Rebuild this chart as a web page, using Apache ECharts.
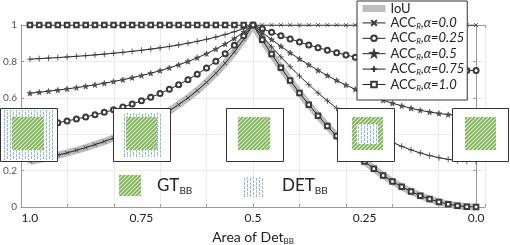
<!DOCTYPE html>
<html><head><meta charset="utf-8">
<script src="https://cdn.jsdelivr.net/npm/echarts@6/dist/echarts.min.js"></script>
<style>html,body{margin:0;padding:0;background:#fff}#c{width:510px;height:245px}</style>
</head><body><div id="c"></div>
<script>
// ---- data ----
const area = [1,0.9792,0.9583,0.9375,0.9167,0.8958,0.875,0.8542,0.8333,0.8125,0.7917,0.7708,0.75,0.7292,0.7083,0.6875,0.6667,0.6458,0.625,0.6042,0.5833,0.5625,0.5417,0.5208,0.5,
  0.4792,0.4583,0.4375,0.4167,0.3958,0.375,0.3542,0.3333,0.3125,0.2917,0.2708,0.25,0.2292,0.2083,0.1875,0.1667,0.1458,0.125,0.1042,0.0833,0.0625,0.0417,0.0208,0];
const iou = [0.25,0.2607,0.2722,0.2844,0.2975,0.3115,0.3265,0.3427,0.36,0.3787,0.3989,0.4208,0.4444,0.4702,0.4983,0.5289,0.5625,0.5994,0.64,0.6849,0.7347,0.7901,0.8521,0.9216,1,
  0.9184,0.8403,0.7656,0.6944,0.6267,0.5625,0.5017,0.4444,0.3906,0.3403,0.2934,0.25,0.2101,0.1736,0.1406,0.1111,0.0851,0.0625,0.0434,0.0278,0.0156,0.0069,0.0017,0];
const acc000 = [0.25,0.2607,0.2722,0.2844,0.2975,0.3115,0.3265,0.3427,0.36,0.3787,0.3989,0.4208,0.4444,0.4702,0.4983,0.5289,0.5625,0.5994,0.64,0.6849,0.7347,0.7901,0.8521,0.9216,1,
  1,1,1,1,1,1,1,1,1,1,1,1,1,1,1,1,1,1,1,1,1,1,1,1];
const acc025 = [0.4375,0.4455,0.4542,0.4633,0.4731,0.4836,0.4949,0.507,0.52,0.534,0.5492,0.5656,0.5833,0.6027,0.6237,0.6467,0.6719,0.6996,0.73,0.7637,0.801,0.8426,0.8891,0.9412,1,
  0.9796,0.9601,0.9414,0.9236,0.9067,0.8906,0.8754,0.8611,0.8477,0.8351,0.8234,0.8125,0.8025,0.7934,0.7852,0.7778,0.7713,0.7656,0.7609,0.757,0.7539,0.7517,0.7504,0.75];
const acc050 = [0.625,0.6304,0.6361,0.6422,0.6488,0.6558,0.6633,0.6713,0.68,0.6894,0.6994,0.7104,0.7222,0.7351,0.7491,0.7645,0.7813,0.7997,0.82,0.8425,0.8674,0.8951,0.926,0.9608,1,
  0.9592,0.9201,0.8828,0.8472,0.8134,0.7813,0.7509,0.7222,0.6953,0.6701,0.6467,0.625,0.605,0.5868,0.5703,0.5556,0.5425,0.5313,0.5217,0.5139,0.5078,0.5035,0.5009,0.5];
const acc075 = [0.8125,0.8152,0.8181,0.8211,0.8244,0.8279,0.8316,0.8357,0.84,0.8447,0.8497,0.8552,0.8611,0.8676,0.8746,0.8822,0.8906,0.8999,0.91,0.9212,0.9337,0.9475,0.963,0.9804,1,
  0.9388,0.8802,0.8242,0.7708,0.72,0.6719,0.6263,0.5833,0.543,0.5052,0.4701,0.4375,0.4076,0.3802,0.3555,0.3333,0.3138,0.2969,0.2826,0.2708,0.2617,0.2552,0.2513,0.25];
const acc100 = [1,1,1,1,1,1,1,1,1,1,1,1,1,1,1,1,1,1,1,1,1,1,1,1,1,
  0.9184,0.8403,0.7656,0.6944,0.6267,0.5625,0.5017,0.4444,0.3906,0.3403,0.2934,0.25,0.2101,0.1736,0.1406,0.1111,0.0851,0.0625,0.0434,0.0278,0.0156,0.0069,0.0017,0];
const xTickValues = [1, 0.75, 0.5, 0.25, 0];
const xTickLabels = ['1.0', '0.75', '0.5', '0.25', '0.0'];
const seriesNames = ['IoU', 'ACC_R,α=0.0', 'ACC_R,α=0.25', 'ACC_R,α=0.5', 'ACC_R,α=0.75', 'ACC_R,α=1.0'];

// ---- styles ----
const FONT = 'Lato';
const INK = '#222';
const MK = '#3a3a3a';
const AX = '#999';
const GRID = '#ebebeb';

function hatchCanvas() {
  const c = document.createElement('canvas'); c.width = 4; c.height = 4;
  const g = c.getContext('2d');
  g.fillStyle = '#eaf4e0'; g.fillRect(0, 0, 4, 4);
  g.strokeStyle = '#7ab552'; g.lineWidth = 1.8;
  g.beginPath();
  g.moveTo(-1, 5); g.lineTo(5, -1);
  g.moveTo(-1, 1); g.lineTo(1, -1);
  g.moveTo(3, 5); g.lineTo(5, 3);
  g.stroke();
  return c;
}
function dashCanvas() {
  const c = document.createElement('canvas'); c.width = 6; c.height = 8;
  const g = c.getContext('2d');
  g.fillStyle = '#fff'; g.fillRect(0, 0, 6, 8);
  g.fillStyle = '#8dbbe6';
  g.fillRect(1, 0, 1, 3); g.fillRect(1, 4, 1, 3);
  g.fillRect(4, 2, 1, 3); g.fillRect(4, 6, 1, 2); g.fillRect(4, 0, 1, 1);
  return c;
}
const green = { image: hatchCanvas(), repeat: 'repeat' };
const blue = { image: dashCanvas(), repeat: 'repeat' };

const insets = [
  { x: 0.5, w: 57, blue: [3, 110, 52, 50], green: [12, 117, 32, 33], blueTop: false },
  { x: 113.5, w: 57, blue: [122, 113, 41, 44], green: [126, 117, 31, 33], blueTop: false },
  { x: 226.5, w: 57, green: [238, 117, 32, 33] },
  { x: 337.5, w: 57, green: [352, 117, 31, 33], blue: [357, 124, 21, 20], blueTop: true },
  { x: 452.5, w: 56, green: [465, 117, 31, 33] }
];
const graphics = [];
insets.forEach(b => {
  graphics.push({ type: 'rect', z: 100, shape: { x: b.x, y: 108.5, width: b.w, height: 53 }, style: { fill: '#fff', stroke: '#333', lineWidth: 1 } });
  const gr = { type: 'rect', z: 101, shape: { x: b.green[0], y: b.green[1], width: b.green[2], height: b.green[3] }, style: { fill: green } };
  if (b.blue) {
    graphics.push({ type: 'rect', z: b.blueTop ? 102 : 100.5, shape: { x: b.blue[0], y: b.blue[1], width: b.blue[2], height: b.blue[3] }, style: { fill: blue } });
  }
  graphics.push(gr);
});
// bottom legend for GT / DET
graphics.push({ type: 'rect', z: 100, shape: { x: 119, y: 175, width: 22, height: 21 }, style: { fill: green } });
graphics.push({ type: 'rect', z: 100, shape: { x: 243, y: 177, width: 20, height: 20 }, style: { fill: blue } });
const subRich = {
  b: { fontSize: 17, fontFamily: FONT, lineHeight: 20, verticalAlign: 'middle', fill: INK },
  s: { fontSize: 10, fontFamily: FONT, lineHeight: 10, verticalAlign: 'bottom', fill: INK }
};
graphics.push({ type: 'text', z: 100, x: 157, y: 176, style: { text: '{b|GT}{s|BB}', rich: subRich, verticalAlign: 'top' } });
graphics.push({ type: 'text', z: 100, x: 282, y: 176, style: { text: '{b|DET}{s|BB}', rich: subRich, verticalAlign: 'top' } });

function pairs(ys) { return area.map((a, i) => [a, ys[i]]); }

const base = { type: 'line', xAxisIndex: 1, yAxisIndex: 0, animation: false, lineStyle: { color: INK, width: 1 }, z: 3 };
const series = [
  { name: seriesNames[0], type: 'line', xAxisIndex: 1, yAxisIndex: 0, animation: false, data: pairs(iou), symbol: 'none', lineStyle: { color: '#bdbdbd', width: 7 }, itemStyle: { color: '#bdbdbd' }, z: 2 },
  Object.assign({}, base, { name: seriesNames[1], data: pairs(acc000), symbol: 'path://M0,0L8,8M8,0L0,8', symbolSize: 4, itemStyle: { color: MK, borderColor: MK, borderWidth: 0.8 } }),
  Object.assign({}, base, { name: seriesNames[2], data: pairs(acc025), symbol: 'emptyCircle', symbolSize: 5, itemStyle: { color: MK, borderColor: MK, borderWidth: 0.8 } }),
  Object.assign({}, base, { name: seriesNames[3], data: pairs(acc050), symbol: 'path://M5,0L6.2,3.6L10,3.6L6.9,5.8L8.1,9.5L5,7.2L1.9,9.5L3.1,5.8L0,3.6L3.8,3.6Z', symbolSize: 5.5, itemStyle: { color: '#555', borderColor: MK, borderWidth: 0.6 } }),
  Object.assign({}, base, { name: seriesNames[4], data: pairs(acc075), symbol: 'path://M4,0L4,8M0,4L8,4', symbolSize: 6, itemStyle: { color: MK, borderColor: MK, borderWidth: 0.8 } }),
  Object.assign({}, base, { name: seriesNames[5], data: pairs(acc100), symbol: 'emptyRect', symbolSize: 4.5, itemStyle: { color: MK, borderColor: MK, borderWidth: 0.8 } })
];

const chart = echarts.init(document.getElementById('c'), null, { renderer: 'canvas' });
chart.setOption({
  animation: false,
  grid: { left: 21, right: 25, top: 25, bottom: 38, outerBoundsMode: 'none', containLabel: false },
  xAxis: [
    { type: 'value', min: 0, max: 1, interval: 0.1, position: 'bottom',
      axisLine: { show: true, lineStyle: { color: AX } }, axisTick: { show: true, inside: true, length: 3, lineStyle: { color: AX } },
      axisLabel: { show: false }, splitLine: { show: true, lineStyle: { color: GRID } } },
    { type: 'value', min: -0.02, max: 1.02, inverse: true, position: 'bottom',
      axisLine: { show: false }, axisTick: { show: false }, splitLine: { show: false },
      axisLabel: { show: true, customValues: xTickValues, margin: 5, fontSize: 12, fontFamily: FONT, color: INK,
        formatter: v => { const i = xTickValues.indexOf(v); return i >= 0 ? xTickLabels[i] : ''; } },
      name: '{a|Area of Det}{s|BB}', nameLocation: 'middle', nameGap: 22,
      nameTextStyle: { rich: {
        a: { fontSize: 14, fontFamily: FONT, color: INK, lineHeight: 16, verticalAlign: 'middle' },
        s: { fontSize: 8, fontFamily: FONT, color: INK, lineHeight: 8, verticalAlign: 'bottom' } } } },
    { type: 'value', min: 0, max: 1, interval: 0.1, position: 'top',
      axisLine: { show: true, lineStyle: { color: AX } }, axisTick: { show: true, inside: true, length: 3, lineStyle: { color: AX } },
      axisLabel: { show: false }, splitLine: { show: false } }
  ],
  yAxis: [
    { type: 'value', min: 0, max: 1, interval: 0.2, position: 'left',
      axisLine: { show: true, lineStyle: { color: AX } }, axisTick: { show: true, inside: true, length: 3, lineStyle: { color: AX } },
      axisLabel: { color: '#555', fontSize: 10, fontFamily: FONT, margin: 4 }, splitLine: { show: true, lineStyle: { color: GRID } } },
    { type: 'value', min: 0, max: 1, interval: 0.2, position: 'right',
      axisLine: { show: true, lineStyle: { color: AX } }, axisTick: { show: true, inside: true, length: 3, lineStyle: { color: AX } },
      axisLabel: { show: false }, splitLine: { show: false } }
  ],
  legend: {
    orient: 'vertical', left: 357, top: 1, padding: [1, 3, 8, 5], itemGap: 1.4, itemWidth: 23, itemHeight: 7, itemTextGap: 7,
    backgroundColor: '#fff', borderColor: '#333', borderWidth: 1, borderRadius: 0,
    selectedMode: false,
    lineStyle: { width: 1 },
    data: [
      { name: seriesNames[0], icon: 'rect', itemStyle: { color: '#bdbdbd' } },
      seriesNames[1], seriesNames[2], seriesNames[3], seriesNames[4], seriesNames[5]
    ],
    formatter: name => name === 'IoU' ? '{n|IoU}' : '{n|ACC}{s|R}{i|,α=' + name.split('=')[1] + '}',
    textStyle: { fontSize: 13, fontFamily: FONT, color: INK, rich: {
      n: { fontSize: 13, fontFamily: FONT, color: INK, lineHeight: 15, verticalAlign: 'middle' },
      s: { fontSize: 8, fontFamily: FONT, fontStyle: 'italic', color: INK, lineHeight: 8, verticalAlign: 'bottom' },
      i: { fontSize: 13, fontFamily: FONT, fontStyle: 'italic', color: INK, lineHeight: 15, verticalAlign: 'middle' } } }
  },
  graphic: graphics,
  series: series
});
</script></body></html>
